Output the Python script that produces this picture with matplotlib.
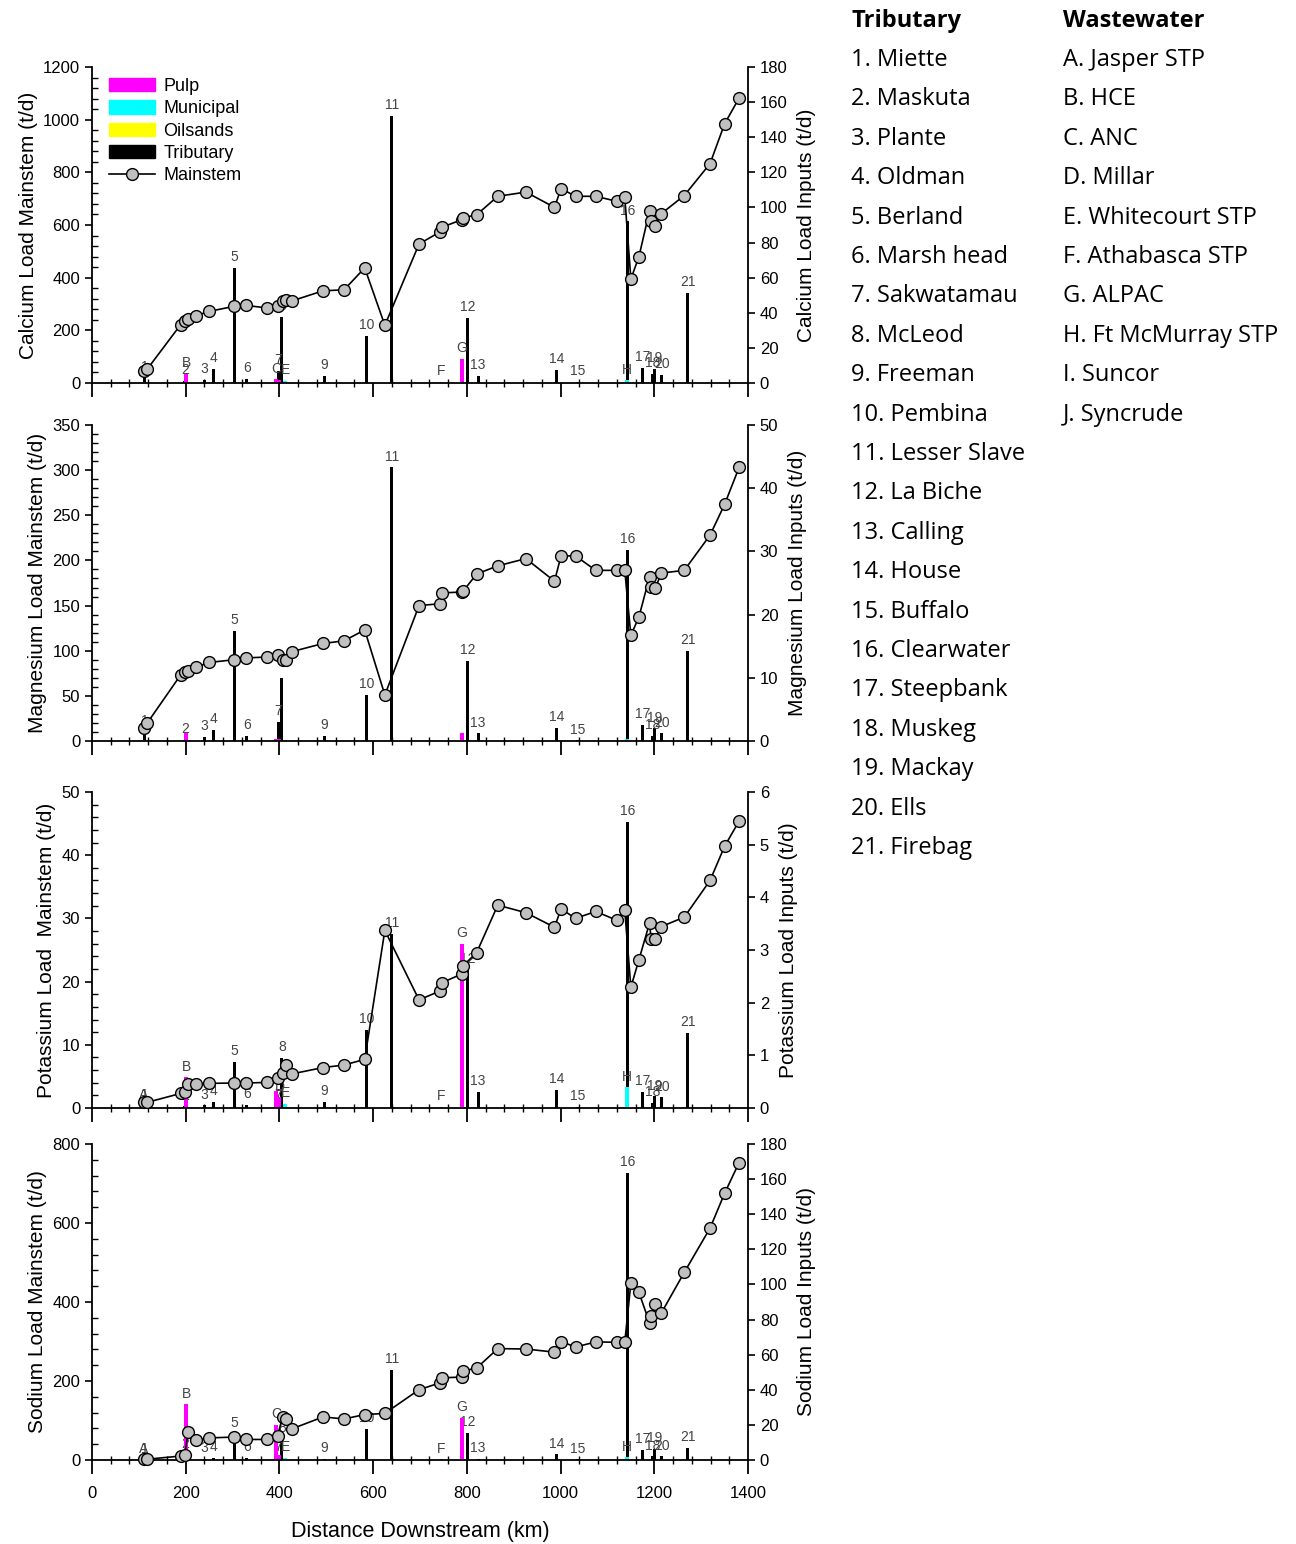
import matplotlib
matplotlib.use("Agg")
from matplotlib import pyplot as plt
from matplotlib.patches import Patch
from matplotlib.lines import Line2D
from matplotlib.ticker import MultipleLocator

plt.rcParams['font.family'] = ['Liberation Sans', 'DejaVu Sans']

# mainstem sampling sites (km downstream), shared by all four panels
dist_km = [110, 118, 189, 198, 205, 223, 250, 303, 328, 373, 396, 407, 415, 427,
           493, 538, 582, 625, 698, 742, 746, 789, 792, 821, 866, 926, 987, 1001,
           1032, 1075, 1120, 1137, 1150, 1167, 1190, 1193, 1202, 1215, 1264, 1319,
           1350, 1381]

ca_main = [44, 53, 221, 237, 243, 256, 272, 291, 295, 285, 294, 310, 316, 312,
           350, 354, 437, 219, 528, 573, 591, 620, 627, 639, 709, 725, 667, 738,
           709, 709, 690, 706, 395, 478, 655, 616, 595, 643, 712, 833, 984, 1082]
mg_main = [14, 20, 73, 76, 77, 82, 87, 90, 92, 93, 95, 90, 90, 99,
           108, 111, 123, 51, 150, 152, 164, 165, 166, 185, 194, 202, 177, 205,
           205, 189, 189, 189, 117, 137, 182, 171, 169, 186, 189, 228, 262, 303]
k_main = [0.9, 0.9, 2.3, 2.5, 3.8, 3.8, 3.9, 3.95, 3.95, 4.05, 4.7, 5.6, 6.8, 5.4,
          6.4, 6.8, 7.7, 28.1, 17.1, 18.5, 19.8, 21.2, 22.5, 24.6, 32.1, 30.9, 28.6, 31.5,
          30.0, 31.1, 29.7, 31.3, 19.1, 23.4, 29.3, 26.7, 26.8, 28.7, 30.2, 36.0, 41.4, 45.4]
na_main = [2, 2, 10, 12, 72, 50, 56, 58, 52, 52, 62, 109, 103, 79,
           109, 104, 115, 118, 178, 195, 208, 210, 225, 233, 282, 281, 273, 300,
           286, 299, 298, 298, 448, 425, 347, 364, 395, 372, 475, 587, 675, 753]

# tributary inputs
trib_labels = [str(i) for i in range(1, 22)]
trib_names = ["Miette", "Maskuta", "Plante", "Oldman", "Berland", "Marsh head",
              "Sakwatamau", "McLeod", "Freeman", "Pembina", "Lesser Slave",
              "La Biche", "Calling", "House", "Buffalo", "Clearwater",
              "Steepbank", "Muskeg", "Mackay", "Ells", "Firebag"]
trib_km = [112, 198, 240, 259, 304, 330, 398, 405, 496, 586, 640, 801, 824, 991,
           1036, 1143, 1175, 1196, 1200, 1216, 1271]
ca_trib = [3, 1.0, 1.9, 8.1, 65.4, 2.3, 7, 37.6, 4.2, 27, 152, 37, 4.2, 7.6, 0.5,
           92, 8.5, 5, 8, 4.7, 51.2]
mg_trib = [1.4, 0.2, 0.6, 1.8, 17.4, 0.75, 3.0, 9.9, 0.8, 7.35, 43.3, 12.7, 1.2,
           2.1, 0.1, 30.2, 2.6, 0.8, 2.0, 1.2, 14.3]
k_trib = [0.05, 0.03, 0.05, 0.11, 0.88, 0.06, 0.05, 0.95, 0.11, 1.48, 3.31, 2.63,
          0.3, 0.35, 0.02, 5.43, 0.3, 0.1, 0.22, 0.2, 1.42]
na_trib = [0.3, 3, 0.5, 1, 15, 1, 1, 12, 0.5, 17.8, 51.5, 15.6, 0.5, 3.2, 0.3,
           163.4, 5.7, 2, 6.5, 2, 7]

# wastewater inputs
ww_labels = ["A", "B", "C", "D", "E", "F", "G", "H", "I", "J"]
ww_names = ["Jasper STP", "HCE", "ANC", "Millar", "Whitecourt STP",
            "Athabasca STP", "ALPAC", "Ft McMurray STP", "Suncor", "Syncrude"]
ww_type = ["Municipal", "Pulp", "Pulp", "Pulp", "Municipal", "Municipal", "Pulp",
           "Municipal", "Oilsands", "Oilsands"]
ww_km = [110, 201, 393, 400, 412, 745, 789, 1141, 1170, 1190]
ca_ww = [0.3, 5.3, 2.0, 1.5, 1.0, 0.5, 13.6, 1.5, 0, 0]
mg_ww = [0.1, 1.2, 0.3, 0.3, 0.2, 0.05, 1.3, 0.3, 0, 0]
k_ww = [0.05, 0.58, 0.33, 0.2, 0.08, 0.02, 3.12, 0.39, 0, 0]
na_ww = [0.3, 31.7, 20, 3, 1, 0.3, 24, 1.5, 0, 0]

type_colors = {"Pulp": "#ff00ff", "Municipal": "#00ffff", "Oilsands": "#ffff00"}

panels = [
    # main, trib, ww, left label, right label, left max, left step, right max, right step,
    # letters shown?, labels hidden in that panel
    (ca_main, ca_trib, ca_ww, "Calcium Load Mainstem (t/d)", "Calcium Load Inputs (t/d)",
     1200, 200, 180, 20, True, ["D"]),
    (mg_main, mg_trib, mg_ww, "Magnesium Load Mainstem (t/d)", "Magnesium Load Inputs (t/d)",
     350, 50, 50, 10, False, ["8"]),
    (k_main, k_trib, k_ww, "Potassium Load  Mainstem (t/d)", "Potassium Load Inputs (t/d)",
     50, 10, 6, 1, True, []),
    (na_main, na_trib, na_ww, "Sodium Load Mainstem (t/d)", "Sodium Load Inputs (t/d)",
     800, 200, 180, 20, True, ["D"]),
]

fig = plt.figure(figsize=(12.96, 15.44), dpi=100)

ax_x0 = 92 / 1296
ax_w = 656 / 1296
tops = [67, 425, 792, 1144]
ax_h = 316 / 1544

for i, (main, trib, ww, llab, rlab, lmax, lstep, rmax, rstep, letters, hidden) in enumerate(panels):
    y0 = 1 - (tops[i] + 316) / 1544
    ax = fig.add_axes([ax_x0, y0, ax_w, ax_h])
    ax2 = ax.twinx()

    # bars for inputs (right axis)
    ax2.bar(trib_km, trib, width=6, color="black", zorder=2)
    for lab, xk, v in zip(trib_labels, trib_km, trib):
        if lab not in hidden:
            ax2.text(xk, v + rmax * 0.012, lab, ha="center", va="bottom",
                     fontsize=10, color="#444444")
    ww_cols = [type_colors[t] for t in ww_type]
    ax2.bar(ww_km, ww, width=8, color=ww_cols, zorder=3)
    if letters:
        for lab, xk, v in zip(ww_labels[:8], ww_km[:8], ww[:8]):
            if lab not in hidden:
                ax2.text(xk, v + rmax * 0.012, lab, ha="center", va="bottom",
                         fontsize=10, color="#444444")

    # mainstem line (left axis), drawn on top
    ax.plot(dist_km, main, "-o", color="black", lw=1.2, markersize=8.5,
            markerfacecolor="#c0c0c0", markeredgecolor="black",
            markeredgewidth=1.0, zorder=5, clip_on=False)
    ax.set_zorder(ax2.get_zorder() + 1)
    ax.patch.set_visible(False)

    ax.set_xlim(0, 1400)
    ax.set_ylim(0, lmax)
    ax2.set_ylim(0, rmax)
    ax.xaxis.set_major_locator(MultipleLocator(200))
    ax.xaxis.set_minor_locator(MultipleLocator(40))
    ax.yaxis.set_major_locator(MultipleLocator(lstep))
    ax.yaxis.set_minor_locator(MultipleLocator(lstep / 5))
    ax2.yaxis.set_major_locator(MultipleLocator(rstep))

    for s in ["top", "right"]:
        ax.spines[s].set_visible(False)
    for s in ["top", "left", "bottom"]:
        ax2.spines[s].set_visible(False)
    for sp in [ax.spines["left"], ax.spines["bottom"], ax2.spines["right"]]:
        sp.set_linewidth(1.3)

    ax.tick_params(axis="x", which="major", direction="out", length=10, width=1.3,
                   labelsize=12, labelbottom=(i == 3), pad=9)
    ax.tick_params(axis="x", which="minor", direction="inout", length=6, width=1.0)
    ax.tick_params(axis="y", which="major", direction="out", length=5, width=1.2,
                   labelsize=12)
    ax.tick_params(axis="y", which="minor", direction="in", length=4, width=1.0)
    ax2.tick_params(axis="y", which="major", direction="out", length=5, width=1.2,
                    labelsize=12)

    ax.set_ylabel(llab, fontsize=15, labelpad=4)
    ax2.set_ylabel(rlab, fontsize=15, labelpad=7)

    if i == 0:
        handles = [Patch(color=type_colors["Pulp"]), Patch(color=type_colors["Municipal"]),
                   Patch(color=type_colors["Oilsands"]), Patch(color="black"),
                   Line2D([], [], color="black", lw=1.2, marker="o", markersize=8.5,
                          markerfacecolor="#c0c0c0", markeredgecolor="black")]
        ax.legend(handles, ["Pulp", "Municipal", "Oilsands", "Tributary", "Mainstem"],
                  loc="upper left", bbox_to_anchor=(0.01, 1.0), frameon=False,
                  fontsize=13, handlelength=2.5, handleheight=0.75,
                  labelspacing=0.3, handletextpad=0.5, borderaxespad=0.2)
    if i == 3:
        ax.set_xlabel("Distance Downstream (km)", fontsize=15.5, labelpad=14)

# name lists on the right
txt = dict(fontsize=17, family=["Open Sans", "DejaVu Sans"], va="center", ha="left")
fig.text(851 / 1296, 1 - 21 / 1544, "Tributary", fontweight="bold", **txt)
fig.text(1063 / 1296, 1 - 21 / 1544, "Wastewater", fontweight="bold", **txt)
for j, (lab, name) in enumerate(zip(trib_labels, trib_names)):
    fig.text(851 / 1296, 1 - (60 + 39.4 * j) / 1544, f"{lab}. {name}", **txt)
for j, (lab, name) in enumerate(zip(ww_labels, ww_names)):
    fig.text(1063 / 1296, 1 - (60 + 39.4 * j) / 1544, f"{lab}. {name}", **txt)

fig.savefig("out.png", dpi=100)
